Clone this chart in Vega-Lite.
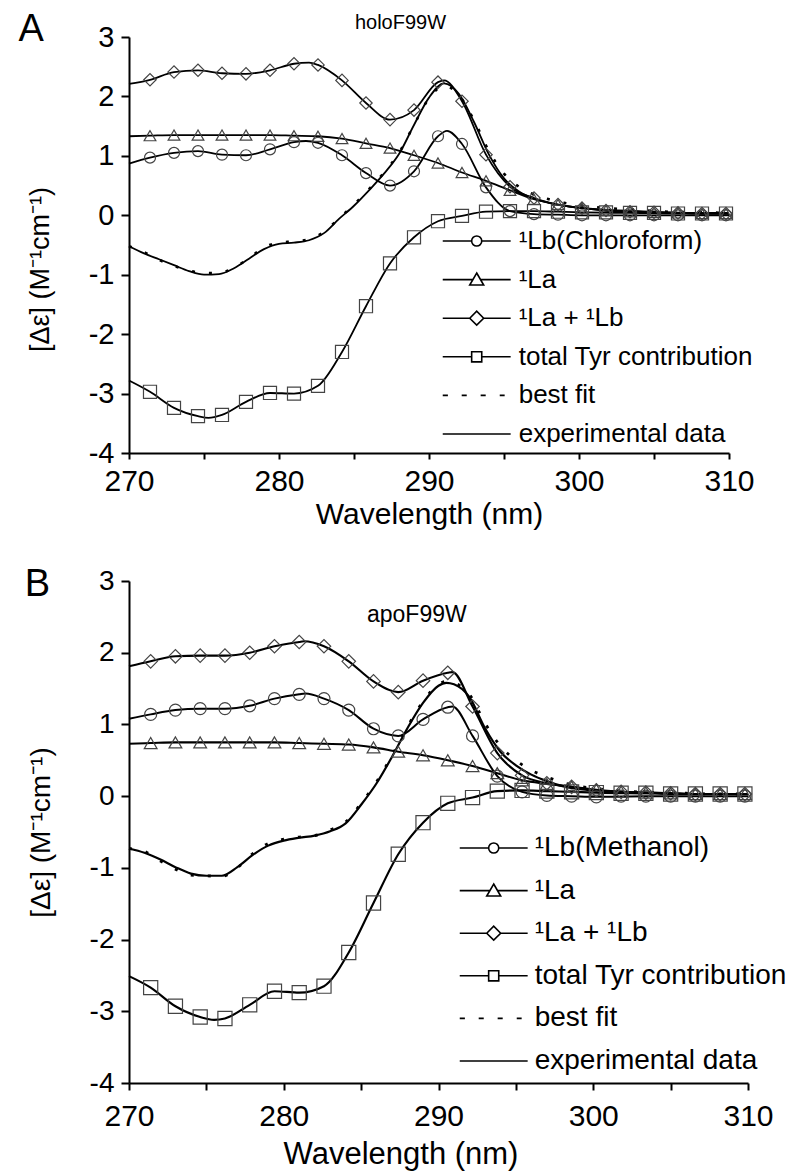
{
  "$schema": "https://vega.github.io/schema/vega-lite/v6.json",
  "autosize": {"type": "pad"},
  "padding": {"left": 18, "top": 10, "right": 5, "bottom": 2},
  "background": "white",
  "config": {
    "view": {"stroke": null},
    "font": "Liberation Sans",
    "axis": {"domainColor": "black", "tickColor": "black", "labelColor": "black", "titleColor": "black", "domainWidth": 2, "tickWidth": 2, "labelFont": "Liberation Sans", "titleFont": "Liberation Sans", "titleFontWeight": "normal", "labelOverlap": false, "labelFlush": false, "grid": false},
    "legend": {"labelFont": "Liberation Sans", "labelColor": "black", "labelLimit": 600, "padding": 0}
  },
  "datasets": {
    "notes": [
      {"p": "A", "kind": "panel", "label": "A"},
      {"p": "A", "kind": "name", "label": "holoF99W"},
      {"p": "B", "kind": "panel", "label": "B"},
      {"p": "B", "kind": "name", "label": "apoF99W"}
    ],
    "lines": [
      {"p":"A","s":"¹Lb(Chloroform)","wl":270,"v":0.87},{"p":"A","s":"¹Lb(Chloroform)","wl":271.4,"v":0.97},{"p":"A","s":"¹Lb(Chloroform)","wl":273.0,"v":1.05},{"p":"A","s":"¹Lb(Chloroform)","wl":274.6,"v":1.08},{"p":"A","s":"¹Lb(Chloroform)","wl":276.2,"v":1.02},{"p":"A","s":"¹Lb(Chloroform)","wl":277.8,"v":1.01},{"p":"A","s":"¹Lb(Chloroform)","wl":279.4,"v":1.11},{"p":"A","s":"¹Lb(Chloroform)","wl":281.0,"v":1.23},{"p":"A","s":"¹Lb(Chloroform)","wl":281.8,"v":1.25},{"p":"A","s":"¹Lb(Chloroform)","wl":282.6,"v":1.22},{"p":"A","s":"¹Lb(Chloroform)","wl":284.2,"v":1.01},{"p":"A","s":"¹Lb(Chloroform)","wl":285.8,"v":0.71},{"p":"A","s":"¹Lb(Chloroform)","wl":287.4,"v":0.50},{"p":"A","s":"¹Lb(Chloroform)","wl":289.0,"v":0.74},{"p":"A","s":"¹Lb(Chloroform)","wl":290.6,"v":1.33},{"p":"A","s":"¹Lb(Chloroform)","wl":291.2,"v":1.42},{"p":"A","s":"¹Lb(Chloroform)","wl":292.2,"v":1.20},{"p":"A","s":"¹Lb(Chloroform)","wl":293.8,"v":0.47},{"p":"A","s":"¹Lb(Chloroform)","wl":295.4,"v":0.07},{"p":"A","s":"¹Lb(Chloroform)","wl":297.0,"v":0.02},{"p":"A","s":"¹Lb(Chloroform)","wl":298.6,"v":0.01},{"p":"A","s":"¹Lb(Chloroform)","wl":300.2,"v":0.0},{"p":"A","s":"¹Lb(Chloroform)","wl":303.4,"v":0.0},{"p":"A","s":"¹Lb(Chloroform)","wl":306.6,"v":0.0},{"p":"A","s":"¹Lb(Chloroform)","wl":310,"v":0.0},
      {"p":"A","s":"¹La","wl":270,"v":1.33},{"p":"A","s":"¹La","wl":271.4,"v":1.34},{"p":"A","s":"¹La","wl":273.0,"v":1.35},{"p":"A","s":"¹La","wl":274.6,"v":1.35},{"p":"A","s":"¹La","wl":276.2,"v":1.35},{"p":"A","s":"¹La","wl":277.8,"v":1.35},{"p":"A","s":"¹La","wl":279.4,"v":1.35},{"p":"A","s":"¹La","wl":281.0,"v":1.34},{"p":"A","s":"¹La","wl":282.6,"v":1.33},{"p":"A","s":"¹La","wl":284.2,"v":1.29},{"p":"A","s":"¹La","wl":285.8,"v":1.21},{"p":"A","s":"¹La","wl":287.4,"v":1.13},{"p":"A","s":"¹La","wl":289.0,"v":1.01},{"p":"A","s":"¹La","wl":290.6,"v":0.88},{"p":"A","s":"¹La","wl":292.2,"v":0.72},{"p":"A","s":"¹La","wl":293.8,"v":0.58},{"p":"A","s":"¹La","wl":295.4,"v":0.42},{"p":"A","s":"¹La","wl":297.0,"v":0.27},{"p":"A","s":"¹La","wl":298.6,"v":0.18},{"p":"A","s":"¹La","wl":300.2,"v":0.12},{"p":"A","s":"¹La","wl":301.8,"v":0.08},{"p":"A","s":"¹La","wl":303.4,"v":0.06},{"p":"A","s":"¹La","wl":305.0,"v":0.05},{"p":"A","s":"¹La","wl":306.6,"v":0.04},{"p":"A","s":"¹La","wl":308.2,"v":0.03},{"p":"A","s":"¹La","wl":310,"v":0.03},
      {"p":"A","s":"¹La + ¹Lb","wl":270,"v":2.21},{"p":"A","s":"¹La + ¹Lb","wl":271.4,"v":2.28},{"p":"A","s":"¹La + ¹Lb","wl":273.0,"v":2.41},{"p":"A","s":"¹La + ¹Lb","wl":274.6,"v":2.44},{"p":"A","s":"¹La + ¹Lb","wl":276.2,"v":2.39},{"p":"A","s":"¹La + ¹Lb","wl":277.8,"v":2.38},{"p":"A","s":"¹La + ¹Lb","wl":279.4,"v":2.44},{"p":"A","s":"¹La + ¹Lb","wl":281.0,"v":2.55},{"p":"A","s":"¹La + ¹Lb","wl":282.0,"v":2.57},{"p":"A","s":"¹La + ¹Lb","wl":282.6,"v":2.53},{"p":"A","s":"¹La + ¹Lb","wl":284.2,"v":2.27},{"p":"A","s":"¹La + ¹Lb","wl":285.8,"v":1.89},{"p":"A","s":"¹La + ¹Lb","wl":287.4,"v":1.61},{"p":"A","s":"¹La + ¹Lb","wl":289.0,"v":1.77},{"p":"A","s":"¹La + ¹Lb","wl":290.6,"v":2.24},{"p":"A","s":"¹La + ¹Lb","wl":291.0,"v":2.27},{"p":"A","s":"¹La + ¹Lb","wl":292.2,"v":1.92},{"p":"A","s":"¹La + ¹Lb","wl":293.8,"v":1.02},{"p":"A","s":"¹La + ¹Lb","wl":295.4,"v":0.48},{"p":"A","s":"¹La + ¹Lb","wl":297.0,"v":0.29},{"p":"A","s":"¹La + ¹Lb","wl":298.6,"v":0.18},{"p":"A","s":"¹La + ¹Lb","wl":300.2,"v":0.12},{"p":"A","s":"¹La + ¹Lb","wl":301.8,"v":0.08},{"p":"A","s":"¹La + ¹Lb","wl":303.4,"v":0.06},{"p":"A","s":"¹La + ¹Lb","wl":305.0,"v":0.05},{"p":"A","s":"¹La + ¹Lb","wl":306.6,"v":0.04},{"p":"A","s":"¹La + ¹Lb","wl":308.2,"v":0.03},{"p":"A","s":"¹La + ¹Lb","wl":310,"v":0.03},
      {"p":"A","s":"total Tyr contribution","wl":270,"v":-2.78},{"p":"A","s":"total Tyr contribution","wl":271.4,"v":-2.97},{"p":"A","s":"total Tyr contribution","wl":273.0,"v":-3.24},{"p":"A","s":"total Tyr contribution","wl":274.6,"v":-3.38},{"p":"A","s":"total Tyr contribution","wl":275.3,"v":-3.41},{"p":"A","s":"total Tyr contribution","wl":276.2,"v":-3.36},{"p":"A","s":"total Tyr contribution","wl":277.8,"v":-3.14},{"p":"A","s":"total Tyr contribution","wl":279.4,"v":-2.99},{"p":"A","s":"total Tyr contribution","wl":281.0,"v":-3.0},{"p":"A","s":"total Tyr contribution","wl":282.6,"v":-2.87},{"p":"A","s":"total Tyr contribution","wl":284.2,"v":-2.30},{"p":"A","s":"total Tyr contribution","wl":285.8,"v":-1.53},{"p":"A","s":"total Tyr contribution","wl":287.4,"v":-0.81},{"p":"A","s":"total Tyr contribution","wl":289.0,"v":-0.37},{"p":"A","s":"total Tyr contribution","wl":290.6,"v":-0.10},{"p":"A","s":"total Tyr contribution","wl":292.2,"v":-0.01},{"p":"A","s":"total Tyr contribution","wl":293.8,"v":0.06},{"p":"A","s":"total Tyr contribution","wl":295.4,"v":0.07},{"p":"A","s":"total Tyr contribution","wl":297.0,"v":0.07},{"p":"A","s":"total Tyr contribution","wl":298.6,"v":0.06},{"p":"A","s":"total Tyr contribution","wl":300.2,"v":0.05},{"p":"A","s":"total Tyr contribution","wl":303.4,"v":0.04},{"p":"A","s":"total Tyr contribution","wl":306.6,"v":0.03},{"p":"A","s":"total Tyr contribution","wl":310,"v":0.03},
      {"p":"A","s":"experimental data","wl":270,"v":-0.52},{"p":"A","s":"experimental data","wl":271,"v":-0.64},{"p":"A","s":"experimental data","wl":272,"v":-0.74},{"p":"A","s":"experimental data","wl":273,"v":-0.84},{"p":"A","s":"experimental data","wl":274,"v":-0.94},{"p":"A","s":"experimental data","wl":275,"v":-1.0},{"p":"A","s":"experimental data","wl":276,"v":-0.99},{"p":"A","s":"experimental data","wl":277,"v":-0.89},{"p":"A","s":"experimental data","wl":278,"v":-0.73},{"p":"A","s":"experimental data","wl":279,"v":-0.57},{"p":"A","s":"experimental data","wl":280,"v":-0.48},{"p":"A","s":"experimental data","wl":281,"v":-0.46},{"p":"A","s":"experimental data","wl":282,"v":-0.42},{"p":"A","s":"experimental data","wl":283,"v":-0.30},{"p":"A","s":"experimental data","wl":284,"v":-0.06},{"p":"A","s":"experimental data","wl":285,"v":0.16},{"p":"A","s":"experimental data","wl":286,"v":0.42},{"p":"A","s":"experimental data","wl":287,"v":0.70},{"p":"A","s":"experimental data","wl":288,"v":1.03},{"p":"A","s":"experimental data","wl":289,"v":1.52},{"p":"A","s":"experimental data","wl":290,"v":1.98},{"p":"A","s":"experimental data","wl":291,"v":2.22},{"p":"A","s":"experimental data","wl":292,"v":2.04},{"p":"A","s":"experimental data","wl":293,"v":1.57},{"p":"A","s":"experimental data","wl":294,"v":1.02},{"p":"A","s":"experimental data","wl":295,"v":0.62},{"p":"A","s":"experimental data","wl":296,"v":0.40},{"p":"A","s":"experimental data","wl":297,"v":0.28},{"p":"A","s":"experimental data","wl":298,"v":0.21},{"p":"A","s":"experimental data","wl":299,"v":0.16},{"p":"A","s":"experimental data","wl":300,"v":0.13},{"p":"A","s":"experimental data","wl":302,"v":0.09},{"p":"A","s":"experimental data","wl":304,"v":0.07},{"p":"A","s":"experimental data","wl":306,"v":0.05},{"p":"A","s":"experimental data","wl":308,"v":0.04},{"p":"A","s":"experimental data","wl":310,"v":0.04},
      {"p":"A","s":"best fit","wl":270,"v":-0.52},{"p":"A","s":"best fit","wl":271,"v":-0.62},{"p":"A","s":"best fit","wl":272,"v":-0.75},{"p":"A","s":"best fit","wl":273,"v":-0.85},{"p":"A","s":"best fit","wl":274,"v":-0.93},{"p":"A","s":"best fit","wl":275,"v":-0.97},{"p":"A","s":"best fit","wl":276,"v":-0.97},{"p":"A","s":"best fit","wl":277,"v":-0.88},{"p":"A","s":"best fit","wl":278,"v":-0.72},{"p":"A","s":"best fit","wl":279,"v":-0.54},{"p":"A","s":"best fit","wl":280,"v":-0.46},{"p":"A","s":"best fit","wl":281,"v":-0.44},{"p":"A","s":"best fit","wl":282,"v":-0.40},{"p":"A","s":"best fit","wl":283,"v":-0.28},{"p":"A","s":"best fit","wl":284,"v":-0.05},{"p":"A","s":"best fit","wl":285,"v":0.18},{"p":"A","s":"best fit","wl":286,"v":0.44},{"p":"A","s":"best fit","wl":287,"v":0.72},{"p":"A","s":"best fit","wl":288,"v":1.05},{"p":"A","s":"best fit","wl":289,"v":1.52},{"p":"A","s":"best fit","wl":290,"v":1.97},{"p":"A","s":"best fit","wl":291,"v":2.18},{"p":"A","s":"best fit","wl":292,"v":2.02},{"p":"A","s":"best fit","wl":293,"v":1.60},{"p":"A","s":"best fit","wl":294,"v":1.08},{"p":"A","s":"best fit","wl":295,"v":0.70},{"p":"A","s":"best fit","wl":296,"v":0.48},{"p":"A","s":"best fit","wl":297,"v":0.35},{"p":"A","s":"best fit","wl":298,"v":0.27},{"p":"A","s":"best fit","wl":299,"v":0.21},{"p":"A","s":"best fit","wl":300,"v":0.17},{"p":"A","s":"best fit","wl":302,"v":0.12},{"p":"A","s":"best fit","wl":304,"v":0.09},{"p":"A","s":"best fit","wl":306,"v":0.06},{"p":"A","s":"best fit","wl":308,"v":0.05},{"p":"A","s":"best fit","wl":310,"v":0.04},
      {"p":"B","s":"¹Lb(Methanol)","wl":270,"v":1.08},{"p":"B","s":"¹Lb(Methanol)","wl":271.4,"v":1.14},{"p":"B","s":"¹Lb(Methanol)","wl":273.0,"v":1.20},{"p":"B","s":"¹Lb(Methanol)","wl":274.6,"v":1.22},{"p":"B","s":"¹Lb(Methanol)","wl":276.2,"v":1.22},{"p":"B","s":"¹Lb(Methanol)","wl":277.8,"v":1.26},{"p":"B","s":"¹Lb(Methanol)","wl":279.4,"v":1.36},{"p":"B","s":"¹Lb(Methanol)","wl":281.0,"v":1.42},{"p":"B","s":"¹Lb(Methanol)","wl":281.4,"v":1.43},{"p":"B","s":"¹Lb(Methanol)","wl":282.6,"v":1.36},{"p":"B","s":"¹Lb(Methanol)","wl":284.2,"v":1.20},{"p":"B","s":"¹Lb(Methanol)","wl":285.8,"v":0.94},{"p":"B","s":"¹Lb(Methanol)","wl":287.4,"v":0.84},{"p":"B","s":"¹Lb(Methanol)","wl":289.0,"v":1.07},{"p":"B","s":"¹Lb(Methanol)","wl":290.6,"v":1.24},{"p":"B","s":"¹Lb(Methanol)","wl":290.9,"v":1.25},{"p":"B","s":"¹Lb(Methanol)","wl":292.2,"v":0.84},{"p":"B","s":"¹Lb(Methanol)","wl":293.8,"v":0.28},{"p":"B","s":"¹Lb(Methanol)","wl":295.4,"v":0.06},{"p":"B","s":"¹Lb(Methanol)","wl":297.0,"v":0.01},{"p":"B","s":"¹Lb(Methanol)","wl":298.6,"v":0.0},{"p":"B","s":"¹Lb(Methanol)","wl":300.2,"v":-0.01},{"p":"B","s":"¹Lb(Methanol)","wl":303.4,"v":0.0},{"p":"B","s":"¹Lb(Methanol)","wl":306.6,"v":0.0},{"p":"B","s":"¹Lb(Methanol)","wl":310,"v":0.0},
      {"p":"B","s":"¹La","wl":270,"v":0.73},{"p":"B","s":"¹La","wl":271.4,"v":0.74},{"p":"B","s":"¹La","wl":273.0,"v":0.75},{"p":"B","s":"¹La","wl":274.6,"v":0.75},{"p":"B","s":"¹La","wl":276.2,"v":0.75},{"p":"B","s":"¹La","wl":277.8,"v":0.75},{"p":"B","s":"¹La","wl":279.4,"v":0.75},{"p":"B","s":"¹La","wl":281.0,"v":0.74},{"p":"B","s":"¹La","wl":282.6,"v":0.73},{"p":"B","s":"¹La","wl":284.2,"v":0.72},{"p":"B","s":"¹La","wl":285.8,"v":0.68},{"p":"B","s":"¹La","wl":287.4,"v":0.62},{"p":"B","s":"¹La","wl":289.0,"v":0.57},{"p":"B","s":"¹La","wl":290.6,"v":0.50},{"p":"B","s":"¹La","wl":292.2,"v":0.42},{"p":"B","s":"¹La","wl":293.8,"v":0.32},{"p":"B","s":"¹La","wl":295.4,"v":0.22},{"p":"B","s":"¹La","wl":297.0,"v":0.17},{"p":"B","s":"¹La","wl":298.6,"v":0.13},{"p":"B","s":"¹La","wl":300.2,"v":0.09},{"p":"B","s":"¹La","wl":301.8,"v":0.06},{"p":"B","s":"¹La","wl":303.4,"v":0.05},{"p":"B","s":"¹La","wl":305.0,"v":0.04},{"p":"B","s":"¹La","wl":306.6,"v":0.03},{"p":"B","s":"¹La","wl":310,"v":0.03},
      {"p":"B","s":"¹La + ¹Lb","wl":270,"v":1.81},{"p":"B","s":"¹La + ¹Lb","wl":271.4,"v":1.88},{"p":"B","s":"¹La + ¹Lb","wl":273.0,"v":1.95},{"p":"B","s":"¹La + ¹Lb","wl":274.6,"v":1.96},{"p":"B","s":"¹La + ¹Lb","wl":276.2,"v":1.96},{"p":"B","s":"¹La + ¹Lb","wl":277.8,"v":2.0},{"p":"B","s":"¹La + ¹Lb","wl":279.4,"v":2.09},{"p":"B","s":"¹La + ¹Lb","wl":281.0,"v":2.15},{"p":"B","s":"¹La + ¹Lb","wl":281.3,"v":2.16},{"p":"B","s":"¹La + ¹Lb","wl":282.6,"v":2.09},{"p":"B","s":"¹La + ¹Lb","wl":284.2,"v":1.88},{"p":"B","s":"¹La + ¹Lb","wl":285.8,"v":1.60},{"p":"B","s":"¹La + ¹Lb","wl":287.4,"v":1.45},{"p":"B","s":"¹La + ¹Lb","wl":289.0,"v":1.61},{"p":"B","s":"¹La + ¹Lb","wl":290.6,"v":1.72},{"p":"B","s":"¹La + ¹Lb","wl":290.9,"v":1.73},{"p":"B","s":"¹La + ¹Lb","wl":292.2,"v":1.25},{"p":"B","s":"¹La + ¹Lb","wl":293.8,"v":0.60},{"p":"B","s":"¹La + ¹Lb","wl":295.4,"v":0.29},{"p":"B","s":"¹La + ¹Lb","wl":297.0,"v":0.18},{"p":"B","s":"¹La + ¹Lb","wl":298.6,"v":0.13},{"p":"B","s":"¹La + ¹Lb","wl":300.2,"v":0.08},{"p":"B","s":"¹La + ¹Lb","wl":301.8,"v":0.06},{"p":"B","s":"¹La + ¹Lb","wl":303.4,"v":0.05},{"p":"B","s":"¹La + ¹Lb","wl":305.0,"v":0.04},{"p":"B","s":"¹La + ¹Lb","wl":306.6,"v":0.03},{"p":"B","s":"¹La + ¹Lb","wl":310,"v":0.03},
      {"p":"B","s":"total Tyr contribution","wl":270,"v":-2.51},{"p":"B","s":"total Tyr contribution","wl":271.4,"v":-2.67},{"p":"B","s":"total Tyr contribution","wl":273.0,"v":-2.93},{"p":"B","s":"total Tyr contribution","wl":274.6,"v":-3.08},{"p":"B","s":"total Tyr contribution","wl":275.5,"v":-3.12},{"p":"B","s":"total Tyr contribution","wl":276.2,"v":-3.10},{"p":"B","s":"total Tyr contribution","wl":277.8,"v":-2.91},{"p":"B","s":"total Tyr contribution","wl":279.4,"v":-2.72},{"p":"B","s":"total Tyr contribution","wl":281.0,"v":-2.74},{"p":"B","s":"total Tyr contribution","wl":282.6,"v":-2.65},{"p":"B","s":"total Tyr contribution","wl":284.2,"v":-2.18},{"p":"B","s":"total Tyr contribution","wl":285.8,"v":-1.49},{"p":"B","s":"total Tyr contribution","wl":287.4,"v":-0.81},{"p":"B","s":"total Tyr contribution","wl":289.0,"v":-0.37},{"p":"B","s":"total Tyr contribution","wl":290.6,"v":-0.10},{"p":"B","s":"total Tyr contribution","wl":292.2,"v":-0.02},{"p":"B","s":"total Tyr contribution","wl":293.8,"v":0.07},{"p":"B","s":"total Tyr contribution","wl":295.4,"v":0.08},{"p":"B","s":"total Tyr contribution","wl":297.0,"v":0.07},{"p":"B","s":"total Tyr contribution","wl":298.6,"v":0.06},{"p":"B","s":"total Tyr contribution","wl":300.2,"v":0.05},{"p":"B","s":"total Tyr contribution","wl":303.4,"v":0.04},{"p":"B","s":"total Tyr contribution","wl":306.6,"v":0.03},{"p":"B","s":"total Tyr contribution","wl":310,"v":0.03},
      {"p":"B","s":"experimental data","wl":270,"v":-0.73},{"p":"B","s":"experimental data","wl":271,"v":-0.79},{"p":"B","s":"experimental data","wl":272,"v":-0.88},{"p":"B","s":"experimental data","wl":273,"v":-0.99},{"p":"B","s":"experimental data","wl":274,"v":-1.08},{"p":"B","s":"experimental data","wl":275,"v":-1.11},{"p":"B","s":"experimental data","wl":276,"v":-1.11},{"p":"B","s":"experimental data","wl":277,"v":-0.99},{"p":"B","s":"experimental data","wl":278,"v":-0.82},{"p":"B","s":"experimental data","wl":279,"v":-0.69},{"p":"B","s":"experimental data","wl":280,"v":-0.62},{"p":"B","s":"experimental data","wl":281,"v":-0.58},{"p":"B","s":"experimental data","wl":282,"v":-0.55},{"p":"B","s":"experimental data","wl":283,"v":-0.49},{"p":"B","s":"experimental data","wl":284,"v":-0.38},{"p":"B","s":"experimental data","wl":285,"v":-0.12},{"p":"B","s":"experimental data","wl":286,"v":0.18},{"p":"B","s":"experimental data","wl":287,"v":0.55},{"p":"B","s":"experimental data","wl":288,"v":0.95},{"p":"B","s":"experimental data","wl":289,"v":1.30},{"p":"B","s":"experimental data","wl":290,"v":1.54},{"p":"B","s":"experimental data","wl":290.5,"v":1.58},{"p":"B","s":"experimental data","wl":291,"v":1.56},{"p":"B","s":"experimental data","wl":292,"v":1.38},{"p":"B","s":"experimental data","wl":293,"v":0.95},{"p":"B","s":"experimental data","wl":294,"v":0.62},{"p":"B","s":"experimental data","wl":295,"v":0.43},{"p":"B","s":"experimental data","wl":296,"v":0.30},{"p":"B","s":"experimental data","wl":297,"v":0.21},{"p":"B","s":"experimental data","wl":298,"v":0.14},{"p":"B","s":"experimental data","wl":299,"v":0.10},{"p":"B","s":"experimental data","wl":300,"v":0.08},{"p":"B","s":"experimental data","wl":302,"v":0.05},{"p":"B","s":"experimental data","wl":304,"v":0.04},{"p":"B","s":"experimental data","wl":306,"v":0.03},{"p":"B","s":"experimental data","wl":308,"v":0.03},{"p":"B","s":"experimental data","wl":310,"v":0.03},
      {"p":"B","s":"best fit","wl":270,"v":-0.73},{"p":"B","s":"best fit","wl":271,"v":-0.77},{"p":"B","s":"best fit","wl":272,"v":-0.90},{"p":"B","s":"best fit","wl":273,"v":-1.02},{"p":"B","s":"best fit","wl":274,"v":-1.10},{"p":"B","s":"best fit","wl":275,"v":-1.11},{"p":"B","s":"best fit","wl":276,"v":-1.12},{"p":"B","s":"best fit","wl":277,"v":-1.0},{"p":"B","s":"best fit","wl":278,"v":-0.80},{"p":"B","s":"best fit","wl":279,"v":-0.66},{"p":"B","s":"best fit","wl":280,"v":-0.60},{"p":"B","s":"best fit","wl":281,"v":-0.57},{"p":"B","s":"best fit","wl":282,"v":-0.55},{"p":"B","s":"best fit","wl":283,"v":-0.47},{"p":"B","s":"best fit","wl":284,"v":-0.36},{"p":"B","s":"best fit","wl":285,"v":-0.10},{"p":"B","s":"best fit","wl":286,"v":0.20},{"p":"B","s":"best fit","wl":287,"v":0.57},{"p":"B","s":"best fit","wl":288,"v":0.97},{"p":"B","s":"best fit","wl":289,"v":1.32},{"p":"B","s":"best fit","wl":290,"v":1.56},{"p":"B","s":"best fit","wl":290.5,"v":1.60},{"p":"B","s":"best fit","wl":291,"v":1.58},{"p":"B","s":"best fit","wl":292,"v":1.42},{"p":"B","s":"best fit","wl":293,"v":1.02},{"p":"B","s":"best fit","wl":294,"v":0.70},{"p":"B","s":"best fit","wl":295,"v":0.50},{"p":"B","s":"best fit","wl":296,"v":0.36},{"p":"B","s":"best fit","wl":297,"v":0.27},{"p":"B","s":"best fit","wl":298,"v":0.19},{"p":"B","s":"best fit","wl":299,"v":0.14},{"p":"B","s":"best fit","wl":300,"v":0.11},{"p":"B","s":"best fit","wl":302,"v":0.07},{"p":"B","s":"best fit","wl":304,"v":0.05},{"p":"B","s":"best fit","wl":306,"v":0.04},{"p":"B","s":"best fit","wl":308,"v":0.03},{"p":"B","s":"best fit","wl":310,"v":0.03}
    ],
    "marks": [
      {"p":"A","s":"¹Lb(Chloroform)","wl":271.4,"v":0.97},{"p":"A","s":"¹Lb(Chloroform)","wl":273.0,"v":1.05},{"p":"A","s":"¹Lb(Chloroform)","wl":274.6,"v":1.08},{"p":"A","s":"¹Lb(Chloroform)","wl":276.2,"v":1.02},{"p":"A","s":"¹Lb(Chloroform)","wl":277.8,"v":1.01},{"p":"A","s":"¹Lb(Chloroform)","wl":279.4,"v":1.11},{"p":"A","s":"¹Lb(Chloroform)","wl":281.0,"v":1.23},{"p":"A","s":"¹Lb(Chloroform)","wl":282.6,"v":1.22},{"p":"A","s":"¹Lb(Chloroform)","wl":284.2,"v":1.01},{"p":"A","s":"¹Lb(Chloroform)","wl":285.8,"v":0.71},{"p":"A","s":"¹Lb(Chloroform)","wl":287.4,"v":0.50},{"p":"A","s":"¹Lb(Chloroform)","wl":289.0,"v":0.74},{"p":"A","s":"¹Lb(Chloroform)","wl":290.6,"v":1.33},{"p":"A","s":"¹Lb(Chloroform)","wl":292.2,"v":1.20},{"p":"A","s":"¹Lb(Chloroform)","wl":293.8,"v":0.47},{"p":"A","s":"¹Lb(Chloroform)","wl":295.4,"v":0.07},{"p":"A","s":"¹Lb(Chloroform)","wl":297.0,"v":0.02},{"p":"A","s":"¹Lb(Chloroform)","wl":298.6,"v":0.01},{"p":"A","s":"¹Lb(Chloroform)","wl":300.2,"v":0.0},{"p":"A","s":"¹Lb(Chloroform)","wl":301.8,"v":0.0},{"p":"A","s":"¹Lb(Chloroform)","wl":303.4,"v":0.0},{"p":"A","s":"¹Lb(Chloroform)","wl":305.0,"v":0.0},{"p":"A","s":"¹Lb(Chloroform)","wl":306.6,"v":0.0},{"p":"A","s":"¹Lb(Chloroform)","wl":308.2,"v":0.0},{"p":"A","s":"¹Lb(Chloroform)","wl":309.8,"v":0.0},
      {"p":"A","s":"¹La","wl":271.4,"v":1.34},{"p":"A","s":"¹La","wl":273.0,"v":1.35},{"p":"A","s":"¹La","wl":274.6,"v":1.35},{"p":"A","s":"¹La","wl":276.2,"v":1.35},{"p":"A","s":"¹La","wl":277.8,"v":1.35},{"p":"A","s":"¹La","wl":279.4,"v":1.35},{"p":"A","s":"¹La","wl":281.0,"v":1.34},{"p":"A","s":"¹La","wl":282.6,"v":1.33},{"p":"A","s":"¹La","wl":284.2,"v":1.29},{"p":"A","s":"¹La","wl":285.8,"v":1.21},{"p":"A","s":"¹La","wl":287.4,"v":1.13},{"p":"A","s":"¹La","wl":289.0,"v":1.01},{"p":"A","s":"¹La","wl":290.6,"v":0.88},{"p":"A","s":"¹La","wl":292.2,"v":0.72},{"p":"A","s":"¹La","wl":293.8,"v":0.58},{"p":"A","s":"¹La","wl":295.4,"v":0.42},{"p":"A","s":"¹La","wl":297.0,"v":0.27},{"p":"A","s":"¹La","wl":298.6,"v":0.18},{"p":"A","s":"¹La","wl":300.2,"v":0.12},{"p":"A","s":"¹La","wl":301.8,"v":0.08},{"p":"A","s":"¹La","wl":303.4,"v":0.06},{"p":"A","s":"¹La","wl":305.0,"v":0.05},{"p":"A","s":"¹La","wl":306.6,"v":0.04},{"p":"A","s":"¹La","wl":308.2,"v":0.03},{"p":"A","s":"¹La","wl":309.8,"v":0.03},
      {"p":"A","s":"¹La + ¹Lb","wl":271.4,"v":2.28},{"p":"A","s":"¹La + ¹Lb","wl":273.0,"v":2.41},{"p":"A","s":"¹La + ¹Lb","wl":274.6,"v":2.44},{"p":"A","s":"¹La + ¹Lb","wl":276.2,"v":2.39},{"p":"A","s":"¹La + ¹Lb","wl":277.8,"v":2.38},{"p":"A","s":"¹La + ¹Lb","wl":279.4,"v":2.44},{"p":"A","s":"¹La + ¹Lb","wl":281.0,"v":2.55},{"p":"A","s":"¹La + ¹Lb","wl":282.6,"v":2.53},{"p":"A","s":"¹La + ¹Lb","wl":284.2,"v":2.27},{"p":"A","s":"¹La + ¹Lb","wl":285.8,"v":1.89},{"p":"A","s":"¹La + ¹Lb","wl":287.4,"v":1.61},{"p":"A","s":"¹La + ¹Lb","wl":289.0,"v":1.77},{"p":"A","s":"¹La + ¹Lb","wl":290.6,"v":2.24},{"p":"A","s":"¹La + ¹Lb","wl":292.2,"v":1.92},{"p":"A","s":"¹La + ¹Lb","wl":293.8,"v":1.02},{"p":"A","s":"¹La + ¹Lb","wl":295.4,"v":0.48},{"p":"A","s":"¹La + ¹Lb","wl":297.0,"v":0.29},{"p":"A","s":"¹La + ¹Lb","wl":298.6,"v":0.18},{"p":"A","s":"¹La + ¹Lb","wl":300.2,"v":0.12},{"p":"A","s":"¹La + ¹Lb","wl":301.8,"v":0.08},{"p":"A","s":"¹La + ¹Lb","wl":303.4,"v":0.06},{"p":"A","s":"¹La + ¹Lb","wl":305.0,"v":0.05},{"p":"A","s":"¹La + ¹Lb","wl":306.6,"v":0.04},{"p":"A","s":"¹La + ¹Lb","wl":308.2,"v":0.03},{"p":"A","s":"¹La + ¹Lb","wl":309.8,"v":0.03},
      {"p":"A","s":"total Tyr contribution","wl":271.4,"v":-2.97},{"p":"A","s":"total Tyr contribution","wl":273.0,"v":-3.24},{"p":"A","s":"total Tyr contribution","wl":274.6,"v":-3.38},{"p":"A","s":"total Tyr contribution","wl":276.2,"v":-3.36},{"p":"A","s":"total Tyr contribution","wl":277.8,"v":-3.14},{"p":"A","s":"total Tyr contribution","wl":279.4,"v":-2.99},{"p":"A","s":"total Tyr contribution","wl":281.0,"v":-3.0},{"p":"A","s":"total Tyr contribution","wl":282.6,"v":-2.87},{"p":"A","s":"total Tyr contribution","wl":284.2,"v":-2.30},{"p":"A","s":"total Tyr contribution","wl":285.8,"v":-1.53},{"p":"A","s":"total Tyr contribution","wl":287.4,"v":-0.81},{"p":"A","s":"total Tyr contribution","wl":289.0,"v":-0.37},{"p":"A","s":"total Tyr contribution","wl":290.6,"v":-0.10},{"p":"A","s":"total Tyr contribution","wl":292.2,"v":-0.01},{"p":"A","s":"total Tyr contribution","wl":293.8,"v":0.06},{"p":"A","s":"total Tyr contribution","wl":295.4,"v":0.07},{"p":"A","s":"total Tyr contribution","wl":297.0,"v":0.07},{"p":"A","s":"total Tyr contribution","wl":298.6,"v":0.06},{"p":"A","s":"total Tyr contribution","wl":300.2,"v":0.05},{"p":"A","s":"total Tyr contribution","wl":301.8,"v":0.05},{"p":"A","s":"total Tyr contribution","wl":303.4,"v":0.04},{"p":"A","s":"total Tyr contribution","wl":305.0,"v":0.04},{"p":"A","s":"total Tyr contribution","wl":306.6,"v":0.03},{"p":"A","s":"total Tyr contribution","wl":308.2,"v":0.03},{"p":"A","s":"total Tyr contribution","wl":309.8,"v":0.03},
      {"p":"B","s":"¹Lb(Methanol)","wl":271.4,"v":1.14},{"p":"B","s":"¹Lb(Methanol)","wl":273.0,"v":1.20},{"p":"B","s":"¹Lb(Methanol)","wl":274.6,"v":1.22},{"p":"B","s":"¹Lb(Methanol)","wl":276.2,"v":1.22},{"p":"B","s":"¹Lb(Methanol)","wl":277.8,"v":1.26},{"p":"B","s":"¹Lb(Methanol)","wl":279.4,"v":1.36},{"p":"B","s":"¹Lb(Methanol)","wl":281.0,"v":1.42},{"p":"B","s":"¹Lb(Methanol)","wl":282.6,"v":1.36},{"p":"B","s":"¹Lb(Methanol)","wl":284.2,"v":1.20},{"p":"B","s":"¹Lb(Methanol)","wl":285.8,"v":0.94},{"p":"B","s":"¹Lb(Methanol)","wl":287.4,"v":0.84},{"p":"B","s":"¹Lb(Methanol)","wl":289.0,"v":1.07},{"p":"B","s":"¹Lb(Methanol)","wl":290.6,"v":1.24},{"p":"B","s":"¹Lb(Methanol)","wl":292.2,"v":0.84},{"p":"B","s":"¹Lb(Methanol)","wl":293.8,"v":0.28},{"p":"B","s":"¹Lb(Methanol)","wl":295.4,"v":0.06},{"p":"B","s":"¹Lb(Methanol)","wl":297.0,"v":0.01},{"p":"B","s":"¹Lb(Methanol)","wl":298.6,"v":0.0},{"p":"B","s":"¹Lb(Methanol)","wl":300.2,"v":-0.01},{"p":"B","s":"¹Lb(Methanol)","wl":301.8,"v":0.0},{"p":"B","s":"¹Lb(Methanol)","wl":303.4,"v":0.0},{"p":"B","s":"¹Lb(Methanol)","wl":305.0,"v":0.0},{"p":"B","s":"¹Lb(Methanol)","wl":306.6,"v":0.0},{"p":"B","s":"¹Lb(Methanol)","wl":308.2,"v":0.0},{"p":"B","s":"¹Lb(Methanol)","wl":309.8,"v":0.0},
      {"p":"B","s":"¹La","wl":271.4,"v":0.74},{"p":"B","s":"¹La","wl":273.0,"v":0.75},{"p":"B","s":"¹La","wl":274.6,"v":0.75},{"p":"B","s":"¹La","wl":276.2,"v":0.75},{"p":"B","s":"¹La","wl":277.8,"v":0.75},{"p":"B","s":"¹La","wl":279.4,"v":0.75},{"p":"B","s":"¹La","wl":281.0,"v":0.74},{"p":"B","s":"¹La","wl":282.6,"v":0.73},{"p":"B","s":"¹La","wl":284.2,"v":0.72},{"p":"B","s":"¹La","wl":285.8,"v":0.68},{"p":"B","s":"¹La","wl":287.4,"v":0.62},{"p":"B","s":"¹La","wl":289.0,"v":0.57},{"p":"B","s":"¹La","wl":290.6,"v":0.50},{"p":"B","s":"¹La","wl":292.2,"v":0.42},{"p":"B","s":"¹La","wl":293.8,"v":0.32},{"p":"B","s":"¹La","wl":295.4,"v":0.22},{"p":"B","s":"¹La","wl":297.0,"v":0.17},{"p":"B","s":"¹La","wl":298.6,"v":0.13},{"p":"B","s":"¹La","wl":300.2,"v":0.09},{"p":"B","s":"¹La","wl":301.8,"v":0.06},{"p":"B","s":"¹La","wl":303.4,"v":0.05},{"p":"B","s":"¹La","wl":305.0,"v":0.04},{"p":"B","s":"¹La","wl":306.6,"v":0.03},{"p":"B","s":"¹La","wl":308.2,"v":0.03},{"p":"B","s":"¹La","wl":309.8,"v":0.03},
      {"p":"B","s":"¹La + ¹Lb","wl":271.4,"v":1.88},{"p":"B","s":"¹La + ¹Lb","wl":273.0,"v":1.95},{"p":"B","s":"¹La + ¹Lb","wl":274.6,"v":1.96},{"p":"B","s":"¹La + ¹Lb","wl":276.2,"v":1.96},{"p":"B","s":"¹La + ¹Lb","wl":277.8,"v":2.0},{"p":"B","s":"¹La + ¹Lb","wl":279.4,"v":2.09},{"p":"B","s":"¹La + ¹Lb","wl":281.0,"v":2.15},{"p":"B","s":"¹La + ¹Lb","wl":282.6,"v":2.09},{"p":"B","s":"¹La + ¹Lb","wl":284.2,"v":1.88},{"p":"B","s":"¹La + ¹Lb","wl":285.8,"v":1.60},{"p":"B","s":"¹La + ¹Lb","wl":287.4,"v":1.45},{"p":"B","s":"¹La + ¹Lb","wl":289.0,"v":1.61},{"p":"B","s":"¹La + ¹Lb","wl":290.6,"v":1.72},{"p":"B","s":"¹La + ¹Lb","wl":292.2,"v":1.25},{"p":"B","s":"¹La + ¹Lb","wl":293.8,"v":0.60},{"p":"B","s":"¹La + ¹Lb","wl":295.4,"v":0.29},{"p":"B","s":"¹La + ¹Lb","wl":297.0,"v":0.18},{"p":"B","s":"¹La + ¹Lb","wl":298.6,"v":0.13},{"p":"B","s":"¹La + ¹Lb","wl":300.2,"v":0.08},{"p":"B","s":"¹La + ¹Lb","wl":301.8,"v":0.06},{"p":"B","s":"¹La + ¹Lb","wl":303.4,"v":0.05},{"p":"B","s":"¹La + ¹Lb","wl":305.0,"v":0.04},{"p":"B","s":"¹La + ¹Lb","wl":306.6,"v":0.03},{"p":"B","s":"¹La + ¹Lb","wl":308.2,"v":0.03},{"p":"B","s":"¹La + ¹Lb","wl":309.8,"v":0.03},
      {"p":"B","s":"total Tyr contribution","wl":271.4,"v":-2.67},{"p":"B","s":"total Tyr contribution","wl":273.0,"v":-2.93},{"p":"B","s":"total Tyr contribution","wl":274.6,"v":-3.08},{"p":"B","s":"total Tyr contribution","wl":276.2,"v":-3.10},{"p":"B","s":"total Tyr contribution","wl":277.8,"v":-2.91},{"p":"B","s":"total Tyr contribution","wl":279.4,"v":-2.72},{"p":"B","s":"total Tyr contribution","wl":281.0,"v":-2.74},{"p":"B","s":"total Tyr contribution","wl":282.6,"v":-2.65},{"p":"B","s":"total Tyr contribution","wl":284.2,"v":-2.18},{"p":"B","s":"total Tyr contribution","wl":285.8,"v":-1.49},{"p":"B","s":"total Tyr contribution","wl":287.4,"v":-0.81},{"p":"B","s":"total Tyr contribution","wl":289.0,"v":-0.37},{"p":"B","s":"total Tyr contribution","wl":290.6,"v":-0.10},{"p":"B","s":"total Tyr contribution","wl":292.2,"v":-0.02},{"p":"B","s":"total Tyr contribution","wl":293.8,"v":0.07},{"p":"B","s":"total Tyr contribution","wl":295.4,"v":0.08},{"p":"B","s":"total Tyr contribution","wl":297.0,"v":0.07},{"p":"B","s":"total Tyr contribution","wl":298.6,"v":0.06},{"p":"B","s":"total Tyr contribution","wl":300.2,"v":0.05},{"p":"B","s":"total Tyr contribution","wl":301.8,"v":0.04},{"p":"B","s":"total Tyr contribution","wl":303.4,"v":0.04},{"p":"B","s":"total Tyr contribution","wl":305.0,"v":0.03},{"p":"B","s":"total Tyr contribution","wl":306.6,"v":0.03},{"p":"B","s":"total Tyr contribution","wl":308.2,"v":0.03},{"p":"B","s":"total Tyr contribution","wl":309.8,"v":0.03}
    ]
  },
  "bounds": "flush",
  "spacing": 128,
  "vconcat": [
    {
      "width": 600,
      "height": 416,
      "resolve": {"scale": {"shape": "independent", "size": "independent", "strokeWidth": "independent"}, "legend": {"shape": "independent"}},
      "layer": [
        {
          "data": {"name": "lines"},
          "transform": [{"filter": "datum.p == 'A' && datum.s != 'best fit'"}],
          "mark": {"type": "line", "interpolate": "monotone", "color": "black"},
          "encoding": {
            "x": {"field": "wl", "type": "quantitative", "title": "Wavelength (nm)", "scale": {"domain": [270, 310], "nice": false, "zero": false},
              "axis": {"values": [270, 275, 280, 285, 290, 295, 300, 305, 310], "labelExpr": "datum.value % 10 == 0 ? datum.label : ''", "tickSize": 6, "labelPadding": 7, "titleY": 46, "labelFontSize": 30, "titleFontSize": 30}},
            "y": {"field": "v", "type": "quantitative", "title": "[Δε] (M⁻¹cm⁻¹)", "scale": {"domain": [-4, 3], "nice": false, "zero": false},
              "axis": {"values": [-4, -3.5, -3, -2.5, -2, -1.5, -1, -0.5, 0, 0.5, 1, 1.5, 2, 2.5, 3], "labelExpr": "datum.value % 1 == 0 ? '' + datum.value : ''", "tickSize": 8, "labelPadding": 7, "titlePadding": 34, "labelFontSize": 29, "titleFontSize": 27, "titleY": 232}},
            "strokeWidth": {"field": "s", "type": "ordinal", "scale": {"domain": ["¹Lb(Chloroform)", "¹La", "¹La + ¹Lb", "total Tyr contribution", "experimental data"], "range": [1.8, 1.8, 1.8, 1.5, 2.4]}, "legend": null}
          }
        },
        {
          "mark": {"type": "rule", "color": "black", "strokeWidth": 1.5},
          "encoding": {"y": {"datum": 0, "type": "quantitative", "scale": {"domain": [-4, 3], "nice": false, "zero": false}}}
        },
        {
          "data": {"name": "lines"},
          "transform": [{"filter": "datum.p == 'A' && datum.s == 'best fit'"}],
          "mark": {"type": "line", "interpolate": "monotone", "color": "black", "strokeWidth": 2.6, "strokeDash": [3, 14]},
          "encoding": {
            "x": {"field": "wl", "type": "quantitative", "title": "Wavelength (nm)", "scale": {"domain": [270, 310], "nice": false, "zero": false}},
            "y": {"field": "v", "type": "quantitative", "title": "[Δε] (M⁻¹cm⁻¹)", "scale": {"domain": [-4, 3], "nice": false, "zero": false}}
          }
        },
        {
          "data": {"name": "marks"},
          "transform": [{"filter": "datum.p == 'A'"}],
          "mark": {"type": "point", "filled": false, "color": "#444", "strokeWidth": 1.2, "opacity": 1},
          "encoding": {
            "x": {"field": "wl", "type": "quantitative", "title": "Wavelength (nm)", "scale": {"domain": [270, 310], "nice": false, "zero": false}},
            "y": {"field": "v", "type": "quantitative", "title": "[Δε] (M⁻¹cm⁻¹)", "scale": {"domain": [-4, 3], "nice": false, "zero": false}},
            "shape": {"field": "s", "type": "nominal", "scale": {"domain": ["¹Lb(Chloroform)", "¹La", "¹La + ¹Lb", "total Tyr contribution"], "range": ["circle", "triangle-up", "diamond", "square"]}, "legend": null},
            "size": {"field": "s", "type": "ordinal", "scale": {"domain": ["¹Lb(Chloroform)", "¹La", "¹La + ¹Lb", "total Tyr contribution"], "range": [121, 170, 225, 100]}, "legend": null}
          }
        },
        {
          "data": {"name": "notes"},
          "transform": [{"filter": "datum.p == 'A' && datum.kind == 'name'"}],
          "mark": {"type": "text", "fontSize": 20, "font": "Liberation Sans", "color": "black", "baseline": "middle", "align": "center", "clip": false},
          "encoding": {
            "x": {"datum": 288.1, "type": "quantitative", "scale": {"domain": [270, 310], "nice": false, "zero": false}},
            "y": {"datum": 3.24, "type": "quantitative", "scale": {"domain": [-4, 3], "nice": false, "zero": false}},
            "text": {"field": "label", "type": "nominal"}
          }
        },
        {
          "data": {"name": "notes"},
          "transform": [{"filter": "datum.p == 'A' && datum.kind == 'panel'"}],
          "mark": {"type": "text", "fontSize": 38, "font": "Liberation Sans", "color": "black", "baseline": "middle", "align": "center", "clip": false},
          "encoding": {
            "x": {"datum": 263.47, "type": "quantitative", "scale": {"domain": [270, 310], "nice": false, "zero": false}},
            "y": {"datum": 3.12, "type": "quantitative", "scale": {"domain": [-4, 3], "nice": false, "zero": false}},
            "text": {"field": "label", "type": "nominal"}
          }
        },
        {
          "data": {"name": "lines"},
          "transform": [{"filter": "datum.wl > 1000"}],
          "mark": {"type": "point", "filled": false, "stroke": "black", "strokeWidth": 1.6, "opacity": 1},
          "encoding": {
            "x": {"field": "wl", "type": "quantitative", "title": "Wavelength (nm)", "scale": {"domain": [270, 310], "nice": false, "zero": false}},
            "y": {"field": "v", "type": "quantitative", "title": "[Δε] (M⁻¹cm⁻¹)", "scale": {"domain": [-4, 3], "nice": false, "zero": false}},
            "shape": {"field": "s", "type": "nominal",
              "scale": {"domain": ["¹Lb(Chloroform)", "¹La", "¹La + ¹Lb", "total Tyr contribution", "best fit", "experimental data"],
                "range": ["M-2.83,0L-0.42,0M0.42,0L2.83,0M0.42,0A0.42,0.42,0,1,1,-0.42,0A0.42,0.42,0,1,1,0.42,0Z", "M-2.83,0L-0.32,0M0.32,0L2.83,0M0,-0.55L0.58,0.45L-0.58,0.45Z", "M-2.83,0L-0.58,0M0.58,0L2.83,0M-0.58,0L0,-0.58L0.58,0L0,0.58Z", "M-2.83,0L-0.42,0M0.42,0L2.83,0M-0.42,-0.42L0.42,-0.42L0.42,0.42L-0.42,0.42Z", "M-2.83,0L-2.4,0M-1.25,0L-0.83,0M0.33,0L0.75,0M1.92,0L2.33,0", "M-2.83,0L2.83,0"]},
              "legend": {"orient": "none", "legendX": 334.7, "legendY": 191, "direction": "vertical", "title": null, "labelFontSize": 26, "labelOffset": 29, "rowPadding": 12.6, "symbolSize": 576, "symbolStrokeWidth": 1.6, "symbolStrokeColor": "black", "symbolFillColor": "transparent", "symbolOpacity": 1, "padding": 0}}
          }
        }
      ]
    },
    {
      "width": 619,
      "height": 502,
      "resolve": {"scale": {"shape": "independent", "size": "independent", "strokeWidth": "independent"}, "legend": {"shape": "independent"}},
      "layer": [
        {
          "data": {"name": "lines"},
          "transform": [{"filter": "datum.p == 'B' && datum.s != 'best fit'"}],
          "mark": {"type": "line", "interpolate": "monotone", "color": "black"},
          "encoding": {
            "x": {"field": "wl", "type": "quantitative", "title": "Wavelength (nm)", "scale": {"domain": [270, 310], "nice": false, "zero": false},
              "axis": {"values": [270, 275, 280, 285, 290, 295, 300, 305, 310], "labelExpr": "datum.value % 10 == 0 ? datum.label : ''", "tickSize": 7, "labelPadding": 11, "titlePadding": 8, "labelFontSize": 30, "titleFontSize": 31, "titleX": 271.5}},
            "y": {"field": "v", "type": "quantitative", "title": "[Δε] (M⁻¹cm⁻¹)", "scale": {"domain": [-4, 3], "nice": false, "zero": false},
              "axis": {"values": [-4, -3.5, -3, -2.5, -2, -1.5, -1, -0.5, 0, 0.5, 1, 1.5, 2, 2.5, 3], "labelExpr": "datum.value % 1 == 0 ? '' + datum.value : ''", "tickSize": 8, "labelPadding": 7, "titlePadding": 34, "labelFontSize": 28, "titleFontSize": 28}},
            "strokeWidth": {"field": "s", "type": "ordinal", "scale": {"domain": ["¹Lb(Methanol)", "¹La", "¹La + ¹Lb", "total Tyr contribution", "experimental data"], "range": [2.0, 2.2, 1.0, 1.6, 2.4]}, "legend": null}
          }
        },
        {
          "mark": {"type": "rule", "color": "black", "strokeWidth": 1.6},
          "encoding": {"y": {"datum": 0, "type": "quantitative", "scale": {"domain": [-4, 3], "nice": false, "zero": false}}}
        },
        {
          "data": {"name": "lines"},
          "transform": [{"filter": "datum.p == 'B' && datum.s == 'best fit'"}],
          "mark": {"type": "line", "interpolate": "monotone", "color": "black", "strokeWidth": 2.8, "strokeDash": [3, 14]},
          "encoding": {
            "x": {"field": "wl", "type": "quantitative", "title": "Wavelength (nm)", "scale": {"domain": [270, 310], "nice": false, "zero": false}},
            "y": {"field": "v", "type": "quantitative", "title": "[Δε] (M⁻¹cm⁻¹)", "scale": {"domain": [-4, 3], "nice": false, "zero": false}}
          }
        },
        {
          "data": {"name": "marks"},
          "transform": [{"filter": "datum.p == 'B'"}],
          "mark": {"type": "point", "filled": false, "color": "#444", "strokeWidth": 1.2, "opacity": 1},
          "encoding": {
            "x": {"field": "wl", "type": "quantitative", "title": "Wavelength (nm)", "scale": {"domain": [270, 310], "nice": false, "zero": false}},
            "y": {"field": "v", "type": "quantitative", "title": "[Δε] (M⁻¹cm⁻¹)", "scale": {"domain": [-4, 3], "nice": false, "zero": false}},
            "shape": {"field": "s", "type": "nominal", "scale": {"domain": ["¹Lb(Methanol)", "¹La", "¹La + ¹Lb", "total Tyr contribution"], "range": ["circle", "triangle-up", "diamond", "square"]}, "legend": null},
            "size": {"field": "s", "type": "ordinal", "scale": {"domain": ["¹Lb(Methanol)", "¹La", "¹La + ¹Lb", "total Tyr contribution"], "range": [144, 200, 289, 144]}, "legend": null}
          }
        },
        {
          "data": {"name": "notes"},
          "transform": [{"filter": "datum.p == 'B' && datum.kind == 'name'"}],
          "mark": {"type": "text", "fontSize": 23, "font": "Liberation Sans", "color": "black", "baseline": "middle", "align": "center", "clip": false},
          "encoding": {
            "x": {"datum": 288.6, "type": "quantitative", "scale": {"domain": [270, 310], "nice": false, "zero": false}},
            "y": {"datum": 2.52, "type": "quantitative", "scale": {"domain": [-4, 3], "nice": false, "zero": false}},
            "text": {"field": "label", "type": "nominal"}
          }
        },
        {
          "data": {"name": "notes"},
          "transform": [{"filter": "datum.p == 'B' && datum.kind == 'panel'"}],
          "mark": {"type": "text", "fontSize": 38, "font": "Liberation Sans", "color": "black", "baseline": "middle", "align": "center", "clip": false},
          "encoding": {
            "x": {"datum": 264.09, "type": "quantitative", "scale": {"domain": [270, 310], "nice": false, "zero": false}},
            "y": {"datum": 2.94, "type": "quantitative", "scale": {"domain": [-4, 3], "nice": false, "zero": false}},
            "text": {"field": "label", "type": "nominal"}
          }
        },
        {
          "data": {"name": "lines"},
          "transform": [{"filter": "datum.wl > 1000"}],
          "mark": {"type": "point", "filled": false, "stroke": "black", "strokeWidth": 1.6, "opacity": 1},
          "encoding": {
            "x": {"field": "wl", "type": "quantitative", "title": "Wavelength (nm)", "scale": {"domain": [270, 310], "nice": false, "zero": false}},
            "y": {"field": "v", "type": "quantitative", "title": "[Δε] (M⁻¹cm⁻¹)", "scale": {"domain": [-4, 3], "nice": false, "zero": false}},
            "shape": {"field": "s", "type": "nominal",
              "scale": {"domain": ["¹Lb(Methanol)", "¹La", "¹La + ¹Lb", "total Tyr contribution", "best fit", "experimental data"],
                "range": ["M-2.83,0L-0.42,0M0.42,0L2.83,0M0.42,0A0.42,0.42,0,1,1,-0.42,0A0.42,0.42,0,1,1,0.42,0Z", "M-2.83,0L-0.32,0M0.32,0L2.83,0M0,-0.55L0.58,0.45L-0.58,0.45Z", "M-2.83,0L-0.58,0M0.58,0L2.83,0M-0.58,0L0,-0.58L0.58,0L0,0.58Z", "M-2.83,0L-0.42,0M0.42,0L2.83,0M-0.42,-0.42L0.42,-0.42L0.42,0.42L-0.42,0.42Z", "M-2.83,0L-2.4,0M-1.25,0L-0.83,0M0.33,0L0.75,0M1.92,0L2.33,0", "M-2.83,0L2.83,0"]},
              "legend": {"orient": "none", "legendX": 350.7, "legendY": 253, "direction": "vertical", "title": null, "labelFontSize": 28, "labelOffset": 27, "rowPadding": 14.6, "symbolSize": 576, "symbolStrokeWidth": 1.6, "symbolStrokeColor": "black", "symbolFillColor": "transparent", "symbolOpacity": 1, "padding": 0}}
          }
        }
      ]
    }
  ]
}
